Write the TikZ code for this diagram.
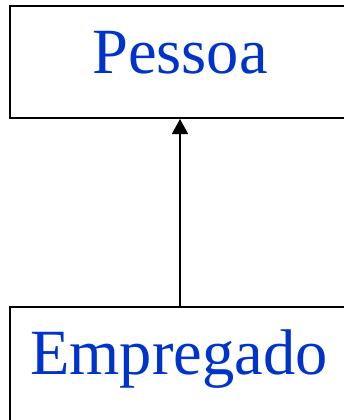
\documentclass[tikz,border=0pt]{standalone}
\usepackage{fontspec}
\setmainfont{Liberation Serif}
\usetikzlibrary{arrows.meta}
\definecolor{labelblue}{RGB}{0,51,204}
\begin{document}
\begin{tikzpicture}[x=1pt,y=-1pt,
  classbox/.style={draw=black,line width=2pt,rectangle,inner sep=0pt,minimum width=340pt},
  classlabel/.style={text=labelblue,font=\fontsize{64.5}{70}\selectfont,anchor=base,inner sep=0pt},
  inherit/.style={line width=1.5pt,-{Triangle[length=15pt,width=16pt]}}]
\useasboundingbox (0,0) rectangle (344,420);
\clip (0,0) rectangle (344,420);
\node[classbox,minimum height=112pt] (pessoa) at (180,62) {};
\node[classbox,minimum height=130pt] (empregado) at (180,372) {};
\node[classlabel] (tp) at (180,74) {Pessoa};
\node[classlabel] (te) at (179,374) {Empregado};
\draw[inherit] (empregado.north) -- (pessoa.south);
\end{tikzpicture}
\end{document}
